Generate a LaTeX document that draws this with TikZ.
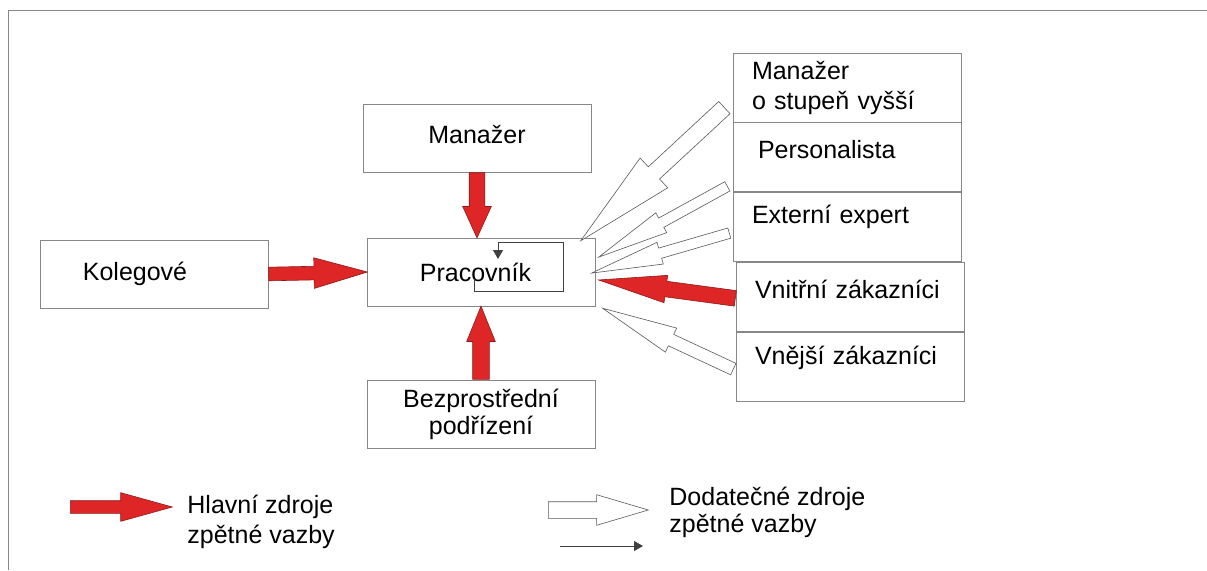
\documentclass[tikz,border=0pt]{standalone}
\usepackage{fontspec}
\setmainfont{Liberation Sans}
\usetikzlibrary{shapes.arrows, arrows.meta, positioning, calc}

\definecolor{arrred}{RGB}{222,38,38}
\definecolor{boxgray}{RGB}{135,135,135}

% block arrow from #2 (tail) to #3 (tip)
\newcommand{\fatarrow}[3]{%
  \path let \p1=($(#3)-(#2)$), \n1={atan2(\y1,\x1)}, \n2={veclen(\x1,\y1)} in
    node[#1, rotate=\n1, minimum height=\n2, anchor=tail] at (#2) {};}

\begin{document}
\begin{tikzpicture}[
  x=0.5pt, y=-0.5pt,
  node distance=0pt,
  every node/.style={font=\fontsize{12.5}{15}\selectfont},
  box/.style={rectangle, draw=boxgray, line width=0.4pt, minimum width=114pt,
              minimum height=34pt, inner sep=0pt, align=center},
  sidebox/.style={box, minimum height=34.5pt, text width=95pt, inner xsep=9.5pt, align=left},
  redarr/.style n args={3}{single arrow, draw=arrred!65!black, fill=arrred,
              line width=0.3pt, inner xsep=0pt, inner ysep=#1, minimum width=0pt,
              single arrow head extend=#2, single arrow tip angle=#3},
  whitearr/.style n args={3}{redarr={#1}{#2}{#3}, draw=black!65, fill=white},
  loopline/.style={-{Triangle[length=4.5pt,width=5pt]}, line width=0.4pt, draw=black!75},
  legtext/.style={anchor=west, align=left, inner sep=0pt}
]
\useasboundingbox (0,0) rectangle (1207,570);
\draw[boxgray, line width=0.5pt] (8,570) |- (1207,10);

% left and centre
\node[box, text depth=4pt] (man)  at (477,138)   {Manažer};
\node[box] (prac) at (481.5,272) {Pracovník\hspace*{6pt}};
\node[box] (kol)  at (154,274)   {Kolegové\hspace*{19pt}};
\node[box] (bez)  at (481,414)   {Bezprostřední\\[-1.5pt]podřízení};

% right column
\node[sidebox] (boss2) at (847,87.5) {Manažer\\o stupeň vyšší};
\node[sidebox, below=of boss2, text depth=7.6pt] (pers) {\hspace*{3pt}Personalista};
\node[sidebox, below=of pers, text depth=12.6pt]  (ext)  {Externí expert};
\node[sidebox, below=of ext, xshift=1.5pt, text depth=8pt] (vnit) {Vnitřní zákazníci};
\node[sidebox, below=of vnit, text depth=11.6pt]  (vnej) {Vnější zákazníci};

% main sources
\fatarrow{redarr={3.25pt}{4.25pt}{32}}{kol.east}{prac.west}
\fatarrow{redarr={3.75pt}{3.25pt}{49}}{man.south}{man.south |- prac.north}
\fatarrow{redarr={4pt}{3pt}{44}}{bez.north}{bez.north |- prac.south}
\fatarrow{redarr={3.75pt}{3pt}{23}}{$(vnit.west)+(0,1.5)$}{$(prac.east)+(3,8)$}

% additional sources
\fatarrow{whitearr={4pt}{6pt}{23}}{$(boss2.south west)+(-8,-15)$}{$(prac.north east)+(-15,3)$}
\fatarrow{whitearr={2.5pt}{3pt}{18}}{$(pers.south west)+(-5,-6)$}{$(prac.east)+(3,-15)$}
\fatarrow{whitearr={2.5pt}{3pt}{18}}{$(ext.south west)+(-3,-29)$}{$(prac.east)+(-4,1)$}
\fatarrow{whitearr={3pt}{3.5pt}{20}}{$(vnej.west)+(-2,2.5)$}{$(prac.south east)+(7,2)$}

% self feedback
\draw[loopline] ($(prac.center)+(-7.5,7)$) -- ++(0,12) -- ++(89,0) -- ++(0,-49)
  -- ++(-65,0) -- ++(0,17);

% legend
\coordinate (lred1) at (70,507);
\coordinate (lred2) at (172,507);
\fatarrow{redarr={3pt}{4pt}{31}}{lred1}{lred2}
\node[legtext] (lmain) at (187,522) {Hlavní zdroje\\zpětné vazby};

\coordinate (lwht1) at (548,510);
\coordinate (lwht2) at (648,510);
\fatarrow{whitearr={4pt}{3.5pt}{33}}{lwht1}{lwht2}
\node[legtext] (ladd) at (669,512) {Dodatečné zdroje\\[-1.5pt]zpětné vazby};

\coordinate (lthin1) at (560,546);
\coordinate (lthin2) at (643,546);
\draw[loopline] (lthin1) -- (lthin2);
\end{tikzpicture}
\end{document}
